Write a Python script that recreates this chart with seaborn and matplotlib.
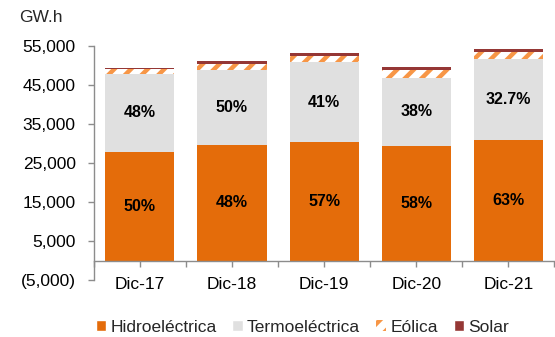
import matplotlib
matplotlib.use("Agg")
import matplotlib.pyplot as plt
import seaborn as sns
import numpy as np
import pandas as pd
from matplotlib.patches import Patch
from matplotlib.ticker import FuncFormatter, FixedLocator

categories = ["Dic-17", "Dic-18", "Dic-19", "Dic-20", "Dic-21"]
hidro = [27900, 29600, 30300, 29400, 30900]
termo = [20000, 19200, 20500, 17500, 20800]
eolica = [1100, 1600, 1700, 1900, 1800]
solar = [300, 800, 700, 700, 800]
hidro_labels = ["50%", "48%", "57%", "58%", "63%"]
termo_labels = ["48%", "50%", "41%", "38%", "32.7%"]

c_hidro = "#E46C0A"
c_termo = "#E0E0E0"
c_eol = "#F79646"
c_sol = "#953735"

sns.set_theme(style="white")
plt.rcParams["font.family"] = ["Liberation Sans", "DejaVu Sans"]
plt.rcParams["hatch.linewidth"] = 3.2

df = pd.DataFrame({"cat": categories, "hidro": hidro, "termo": termo,
                   "eolica": eolica, "solar": solar})
df["c1"] = df["hidro"]
df["c2"] = df["c1"] + df["termo"]
df["c3"] = df["c2"] + df["eolica"]
df["c4"] = df["c3"] + df["solar"]

fig = plt.figure(figsize=(5.55, 3.37), dpi=100)
ax = fig.add_axes([0.169, 0.169, 0.83, 0.6945])

w = 0.75
sns.barplot(data=df, x="cat", y="c4", color=c_sol, saturation=1, width=w, ax=ax, linewidth=0)
sns.barplot(data=df, x="cat", y="c3", color="white", saturation=1, width=w, ax=ax,
            linewidth=0, hatch="//", edgecolor=c_eol)
sns.barplot(data=df, x="cat", y="c2", color=c_termo, saturation=1, width=w, ax=ax, linewidth=0)
sns.barplot(data=df, x="cat", y="c1", color=c_hidro, saturation=1, width=w, ax=ax, linewidth=0)

for i in range(len(categories)):
    ax.text(i, hidro[i] / 2, hidro_labels[i], ha="center", va="center",
            fontsize=11.5, fontweight="bold", color="black")
    ax.text(i, hidro[i] + termo[i] / 2, termo_labels[i], ha="center", va="center",
            fontsize=11.5, fontweight="bold", color="black")

ax.set_ylim(-5000, 55000)
ax.set_xlim(-0.5, 4.5)
ax.yaxis.set_major_locator(FixedLocator(np.arange(-5000, 55001, 10000)))
ax.yaxis.set_major_formatter(FuncFormatter(
    lambda v, p: f"({abs(v):,.0f})" if v < 0 else f"{v:,.0f}"))

for s in ["top", "right"]:
    ax.spines[s].set_visible(False)
ax.spines["left"].set_color("#8C8C8C")
ax.spines["left"].set_linewidth(1.0)
ax.spines["bottom"].set_position(("data", 0))
ax.spines["bottom"].set_color("#8C8C8C")
ax.spines["bottom"].set_linewidth(1.0)

ax.tick_params(axis="y", left=True, length=4, width=1, color="#8C8C8C",
               labelsize=12.5, labelcolor="black", pad=9)
ax.set_xticks(range(len(categories)))
ax.set_xticks(np.arange(-0.5, 4.6, 1), minor=True)
ax.tick_params(axis="x", which="both", bottom=True, length=4, width=1,
               color="#8C8C8C", direction="out")
ax.tick_params(axis="x", which="major", labelsize=12.5, labelcolor="black", pad=8)
ax.set_xlabel("")
ax.set_ylabel("")

fig.text(0.035, 0.925, "GW.h", fontsize=12.5, ha="left", va="bottom")

handles = [Patch(facecolor=c_hidro, label="Hidroeléctrica"),
           Patch(facecolor=c_termo, label="Termoeléctrica"),
           Patch(facecolor="white", edgecolor=c_eol, hatch="//", linewidth=0, label="Eólica"),
           Patch(facecolor=c_sol, label="Solar")]
fig.legend(handles=handles, loc="lower center", bbox_to_anchor=(0.545, -0.04), ncol=4,
           frameon=False, fontsize=12.5, handlelength=0.6, handleheight=0.6,
           handletextpad=0.25, columnspacing=0.9)

fig.savefig("out.png", dpi=100)
